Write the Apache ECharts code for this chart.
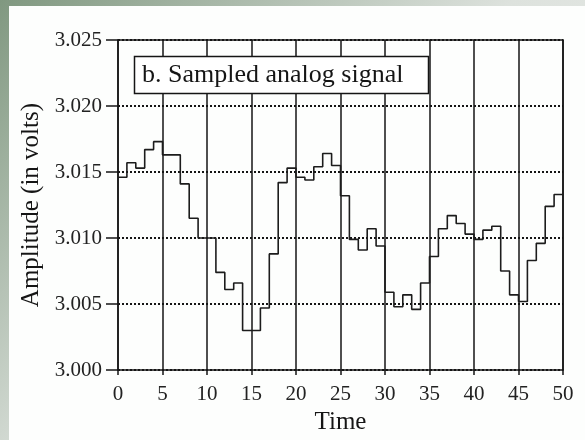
<!DOCTYPE html>
<html>
<head>
<meta charset="utf-8">
<script src="https://cdn.jsdelivr.net/npm/echarts@6/dist/echarts.min.js"></script>
<style>
  html, body { margin: 0; padding: 0; }
  body {
    width: 585px; height: 440px; overflow: hidden; position: relative;
    background: linear-gradient(135deg, #809880 0%, #dde2dd 50%, #f0f0f0 100%);
  }
  #panel { position: absolute; left: 9px; top: 6px; right: 0; bottom: 0; background: #fdfefd; }
  #chart { position: absolute; left: 0; top: 0; width: 585px; height: 440px; }
</style>
</head>
<body>
<div id="panel"></div>
<div id="chart"></div>
<script>
// Sample instants and the held amplitude (volts) at each instant
const time = [
  0, 1, 2, 3, 4, 5, 6, 7, 8, 9,
  10, 11, 12, 13, 14, 15, 16, 17, 18, 19,
  20, 21, 22, 23, 24, 25, 26, 27, 28, 29,
  30, 31, 32, 33, 34, 35, 36, 37, 38, 39,
  40, 41, 42, 43, 44, 45, 46, 47, 48, 49, 50
];
const amplitude = [
  3.0146, 3.0157, 3.0153, 3.0167, 3.0173, 3.0163, 3.0163, 3.0141, 3.0115, 3.0100,
  3.0100, 3.0074, 3.0061, 3.0066, 3.0030, 3.0030, 3.0047, 3.0088, 3.0142, 3.0153,
  3.0146, 3.0144, 3.0154, 3.0164, 3.0155, 3.0132, 3.0099, 3.0091, 3.0107, 3.0094,
  3.0059, 3.0048, 3.0057, 3.0046, 3.0066, 3.0086, 3.0107, 3.0117, 3.0111, 3.0103,
  3.0099, 3.0106, 3.0109, 3.0075, 3.0057, 3.0052, 3.0083, 3.0096, 3.0124, 3.0133, 3.0133
];
const xTicks = { min: 0, max: 50, step: 5 };
const yTicks = { min: 3.000, max: 3.025, step: 0.005 };
const boxLabel = 'b. Sampled analog signal';

const serif = 'Liberation Serif';
const ink = '#151515';
const frameLine = { color: ink, width: 1.5 };

const chart = echarts.init(document.getElementById('chart'), null, { renderer: 'canvas' });
chart.setOption({
  animation: false,
  grid: { left: 118, right: 22, top: 40, bottom: 68, containLabel: false },
  xAxis: [
    {
      type: 'value', min: xTicks.min, max: xTicks.max, interval: xTicks.step, position: 'bottom',
      name: 'Time', nameLocation: 'middle', nameGap: 38,
      nameTextStyle: { fontFamily: serif, fontSize: 25, color: ink },
      axisLine: { show: true, onZero: false, lineStyle: frameLine },
      axisTick: { show: true, inside: false, length: 5, lineStyle: frameLine },
      axisLabel: { margin: 14, fontFamily: serif, fontSize: 21, color: '#222' },
      splitLine: { show: true, lineStyle: { color: ink, width: 1.5, type: 'solid' } }
    },
    {
      type: 'value', min: xTicks.min, max: xTicks.max, interval: xTicks.step, position: 'top',
      axisLine: { show: true, onZero: false, lineStyle: frameLine },
      axisTick: { show: false }, axisLabel: { show: false }, splitLine: { show: false }
    }
  ],
  yAxis: [
    {
      type: 'value', min: yTicks.min, max: yTicks.max, interval: yTicks.step, position: 'left',
      name: 'Amplitude (in volts)', nameLocation: 'middle', nameGap: 69,
      nameTextStyle: { fontFamily: serif, fontSize: 25, color: ink },
      axisLine: { show: true, onZero: false, lineStyle: frameLine },
      axisTick: { show: true, inside: false, length: 12, lineStyle: frameLine },
      axisLabel: {
        margin: 16, fontFamily: serif, fontSize: 21, color: '#222',
        formatter: v => v.toFixed(3)
      },
      splitLine: { show: true, lineStyle: { color: ink, width: 2, type: [2, 2] } }
    },
    {
      type: 'value', min: yTicks.min, max: yTicks.max, interval: yTicks.step, position: 'right',
      axisLine: { show: true, onZero: false, lineStyle: frameLine },
      axisTick: { show: false }, axisLabel: { show: false }, splitLine: { show: false }
    }
  ],
  series: [
    {
      type: 'line', step: 'end', xAxisIndex: 0, yAxisIndex: 0,
      data: time.map((t, i) => [t, amplitude[i]]),
      showSymbol: false, symbol: 'none', z: 5,
      lineStyle: { color: '#1c1c1c', width: 1.6 }
    }
  ],
  graphic: [
    {
      type: 'rect', z: 100,
      shape: { x: 134.5, y: 56.5, width: 294, height: 37 },
      style: { fill: '#ffffff', stroke: ink, lineWidth: 1.5 }
    },
    {
      type: 'text', z: 101, x: 142, y: 75,
      style: { text: boxLabel, fontFamily: serif, fontSize: 26, fill: ink, verticalAlign: 'middle', align: 'left' }
    }
  ]
});
</script>
</body>
</html>
